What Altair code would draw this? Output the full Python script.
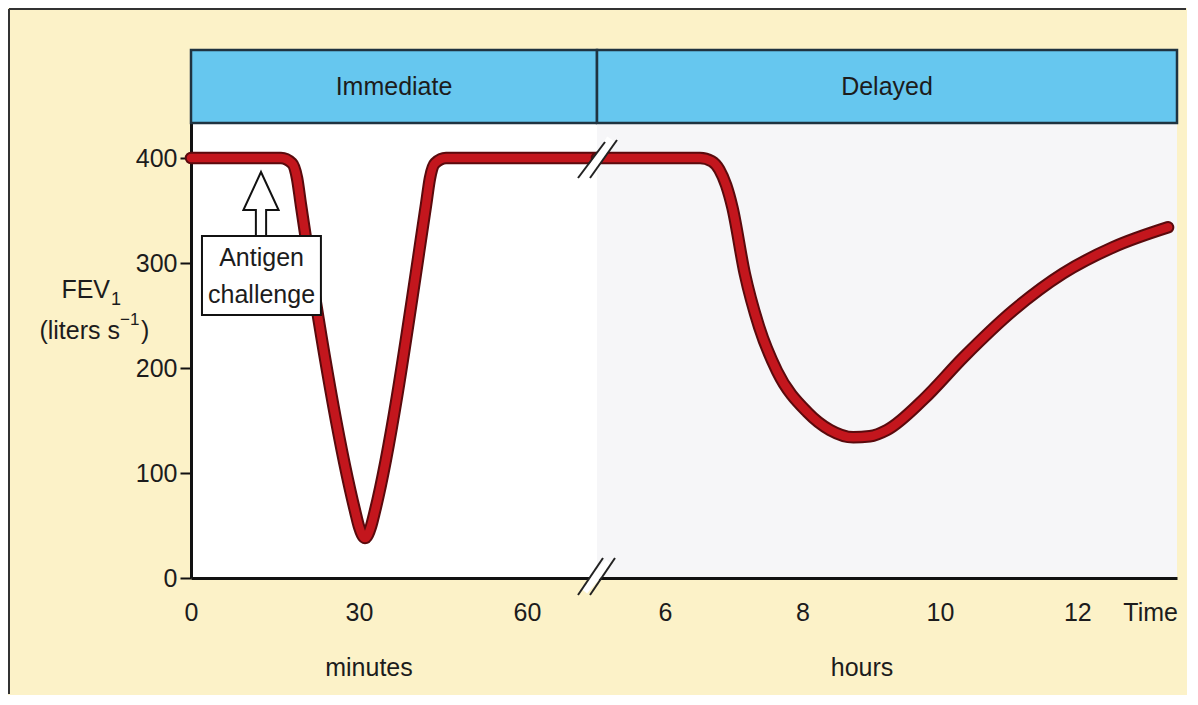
import altair as alt
import pandas as pd

# ---------------- data ----------------
# Immediate response (x in minutes)
minutes = [0, 16.07, 18.04, 18.93, 19.64, 29.29, 30.0, 31.07, 32.14, 32.86,
           41.96, 42.68, 43.57, 45.54, 72.5]
fev_minutes = [400, 400, 395, 381, 355, 64, 49, 38, 49, 64,
               355, 381, 395, 400, 400]

# Delayed response (x in hours)
hours = [5.01, 6.51, 6.68, 6.79, 6.89, 6.98, 7.16, 7.37, 7.63, 8.07, 8.40, 8.74,
         8.98, 9.23, 9.76, 10.34, 11.07, 11.79, 12.52, 13.32]
fev_hours = [400, 400, 397, 389, 374, 353, 290, 239, 197, 158, 141, 134,
             135, 141, 170, 210, 255, 290, 315, 334]

y_ticks = [0, 100, 200, 300, 400]
minute_ticks = [0, 30, 60]
hour_ticks = [6, 8, 10, 12]
phases = ["Immediate", "Delayed"]

# ---------------- styling ----------------
FONT = "Liberation Sans, Arial, sans-serif"
BG = "#FCF2C8"
BLUE = "#66C7EF"
HEAD_STROKE = "#1F3340"
RED = "#C3161D"
DARK = "#5A0A0D"
TXT = "#1C1C1C"
FS = 25

W1, W2, H = 406, 580, 528
YMAX = H / 1.05
HEAD_LO = 433.3
X1 = [0, 72.5]
X2 = [5.01, 13.45]

df_min = pd.DataFrame({"t": minutes, "fev": fev_minutes})
df_hr = pd.DataFrame({"t": hours, "fev": fev_hours})
one = pd.DataFrame({"a": [0]})

yscale = alt.Scale(domain=[0, YMAX], nice=False, zero=False)


def xaxis(vals):
    return alt.Axis(values=vals, title=None, ticks=False, grid=False,
                    labelPadding=22, labelFont=FONT, labelFontSize=FS,
                    labelColor=TXT, labelFlush=False, labelOverlap=False,
                    domainColor="#111111", domainWidth=3)


AX1 = xaxis(minute_ticks)
AX2 = xaxis(hour_ticks)
AY = alt.Axis(values=y_ticks, title=None, grid=False, tickSize=11,
              tickWidth=2, tickColor="#111111", labelPadding=3,
              labelFont=FONT, labelFontSize=FS, labelColor=TXT,
              domainColor="#111111", domainWidth=3)


def curve(df, xdom, ax, ay):
    base = alt.Chart(df).encode(
        x=alt.X("t:Q", scale=alt.Scale(domain=xdom, nice=False, zero=False), axis=ax),
        y=alt.Y("fev:Q", scale=yscale, axis=ay),
    )
    outline = base.mark_line(color=DARK, strokeWidth=12.5, interpolate="monotone",
                             strokeCap="round", strokeJoin="round")
    inner = base.mark_line(color=RED, strokeWidth=8.5, interpolate="monotone",
                           strokeCap="round", strokeJoin="round")
    return outline, inner


def header(xdom, label, ax, ay):
    rect = alt.Chart(one).mark_rect(fill=BLUE, stroke=HEAD_STROKE, strokeWidth=2.5).encode(
        x=alt.X(datum=xdom[0], axis=ax), x2=alt.X2(datum=xdom[1]),
        y=alt.Y(datum=HEAD_LO, axis=ay), y2=alt.Y2(datum=YMAX))
    txt = alt.Chart(one).mark_text(text=label, font=FONT, fontSize=FS, color=TXT,
                                   align="center", baseline="middle").encode(
        x=alt.X(datum=(xdom[0] + xdom[1]) / 2, axis=ax),
        y=alt.Y(datum=(HEAD_LO + YMAX) / 2, axis=ay))
    return rect, txt


def ptext(text, x, y, size=FS, align="center", baseline="middle"):
    return alt.Chart(one).mark_text(text=text, font=FONT, fontSize=size, color=TXT,
                                    align=align, baseline=baseline).encode(
        x=alt.value(x), y=alt.value(y))


def prule(x, x2, y, y2, color, width):
    return alt.Chart(one).mark_rule(color=color, strokeWidth=width).encode(
        x=alt.value(x), x2=alt.value(x2), y=alt.value(y), y2=alt.value(y2))


# ---------------- left panel (minutes) ----------------
o1, r1 = curve(df_min, X1, AX1, AY)
h1, ht1 = header(X1, phases[0], AX1, AY)

box = alt.Chart(one).mark_rect(fill="white", stroke="#111111", strokeWidth=2).encode(
    x=alt.X(datum=1.96, axis=AX1), x2=alt.X2(datum=23.2),
    y=alt.Y(datum=250.5, axis=AY), y2=alt.Y2(datum=325.7))
arrow_path = "M0,-1 L0.55,0.19 L0.16,0.19 L0.16,1 L-0.16,1 L-0.16,0.19 L-0.55,0.19 Z"
arrow = alt.Chart(one).mark_point(shape=arrow_path, size=4096, filled=True, fill="white",
                                  stroke="#111111", strokeWidth=2, opacity=1).encode(
    x=alt.X(datum=12.5, axis=AX1), y=alt.Y(datum=356.2, axis=AY))
box_t1 = alt.Chart(one).mark_text(text="Antigen", font=FONT, fontSize=FS, color=TXT,
                                  align="center", baseline="middle").encode(
    x=alt.X(datum=12.6, axis=AX1), y=alt.Y(datum=305, axis=AY))
box_t2 = alt.Chart(one).mark_text(text="challenge", font=FONT, fontSize=FS, color=TXT,
                                  align="center", baseline="middle").encode(
    x=alt.X(datum=12.6, axis=AX1), y=alt.Y(datum=270, axis=AY))

left = alt.layer(
    h1, ht1, o1, r1, box, arrow, box_t1, box_t2,
    ptext("FEV", -81, 240, align="right"),
    ptext("1", -80, 250, size=18, align="left"),
    ptext("(liters  s", -71, 281, align="right"),
    ptext("\u22121", -71, 270, size=17, align="left"),
    ptext(")", -50, 281, align="left"),
    ptext("minutes", 178, 618),
    prule(-182, -182, -41, 644, "#333333", 2),
    prule(-182, 995, -41, -41, "#333333", 2),
).properties(width=W1, height=H, view=alt.ViewBackground(fill="#FFFFFF", strokeWidth=0))

# ---------------- right panel (hours) ----------------
o2, r2 = curve(df_hr, X2, AX2, None)
h2, ht2 = header(X2, phases[1], AX2, None)

right = alt.layer(
    h2, ht2, o2, r2,
    # axis break marks (top on the curve, bottom on the axis)
    prule(-13, 14, 131, 89, "#FFFFFF", 9),
    prule(-19, 8, 128, 92, "#222222", 2),
    prule(-7, 20, 128, 90, "#222222", 2),
    prule(-13, 12, 541, 512, "#FFFFFF", 8),
    prule(-19, 6, 545, 508, "#222222", 2),
    prule(-7, 18, 545, 508, "#222222", 2),
    ptext("Time", 581, 563, align="right"),
    ptext("hours", 265, 618),
).properties(width=W2, height=H, view=alt.ViewBackground(fill="#F6F6F8", strokeWidth=0))

chart = alt.hconcat(left, right, spacing=0, bounds="flush", padding=0).configure(
    background=BG
).configure_view(strokeWidth=0)

chart.save("out.html", embed_options={"renderer": "svg", "actions": False})
